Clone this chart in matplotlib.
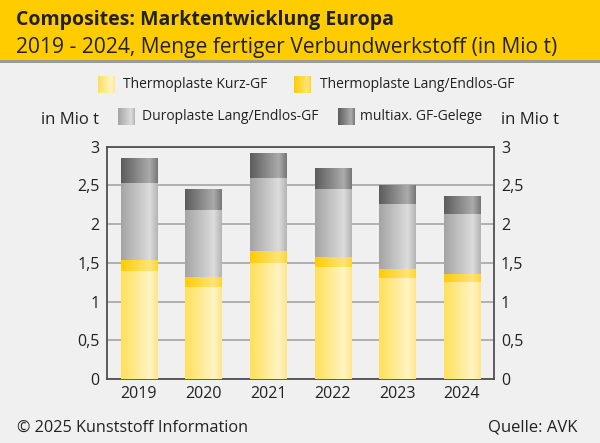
import numpy as np
import matplotlib.pyplot as plt

plt.rcParams['font.family'] = ['Open Sans', 'DejaVu Sans']

years = ['2019', '2020', '2021', '2022', '2023', '2024']
kurz = [1.39, 1.19, 1.50, 1.45, 1.30, 1.25]
lang = [0.15, 0.13, 0.15, 0.13, 0.12, 0.11]
duro = [0.99, 0.86, 0.95, 0.88, 0.84, 0.77]
multiax = [0.32, 0.27, 0.31, 0.26, 0.24, 0.22]
names = ['Thermoplaste Kurz-GF', 'Thermoplaste Lang/Endlos-GF',
         'Duroplaste Lang/Endlos-GF', 'multiax. GF-Gelege']
yticks = [0, 0.5, 1, 1.5, 2, 2.5, 3]
ylabels = ['0', '0,5', '1', '1,5', '2', '2,5', '3']

# left, light, right edge of the horizontal gradient
grads = [
    ['#ffe05a', '#fff4c4', '#ffe68c'],
    ['#ffcc00', '#ffe47a', '#ffd633'],
    ['#a4a4a4', '#dcdcdc', '#b4b4b4'],
    ['#5c5c5c', '#ababab', '#767676'],
]
flat = ['#ffe88a', '#ffd633', '#c4c4c4', '#888888']


def gradient(stops):
    from matplotlib.colors import to_rgb
    c = np.array([to_rgb(s) for s in stops])
    t = np.linspace(0, 1, 120)
    pos = [0, 0.78, 1]
    img = np.stack([np.interp(t, pos, c[:, k]) for k in range(3)], axis=-1)
    return img[None, :, :]


bg = '#f0f0f0'
txt = '#222222'
fig = plt.figure(figsize=(6, 4.43), dpi=100, facecolor=bg)

# overlay in pixel coordinates for header, legend and footer
ov = fig.add_axes([0, 0, 1, 1])
ov.set_xlim(0, 600)
ov.set_ylim(443, 0)
ov.axis('off')
ov.add_patch(plt.Rectangle((0, 0), 600, 60, color='#ffcc00', lw=0))
ov.add_patch(plt.Rectangle((0, 60), 600, 2.5, color='#9a9a9a', lw=0))
ov.text(16, 24.5, 'Composites: Marktentwicklung Europa', fontsize=14,
        weight='bold', color=txt, va='baseline')
ov.text(16, 53, '2019 - 2024, Menge fertiger Verbundwerkstoff (in Mio t)',
        fontsize=15.1, color=txt, va='baseline')

leg = [(97.6, 76, 122.8), (293.5, 76, 319.6), (117.9, 108, 141.6), (338.3, 108, 360.5)]
for (px, py, tx), g, name in zip(leg, grads, names):
    ov.imshow(gradient(g), extent=(px, px + 17, py + 16.5, py), aspect='auto',
              interpolation='bilinear')
    ov.text(tx, py + 8.5, name, fontsize=10, color=txt, va='center')
ov.set_xlim(0, 600)
ov.set_ylim(443, 0)
ov.text(41, 124, 'in Mio t', fontsize=12, color=txt, va='baseline')
ov.text(501, 124, 'in Mio t', fontsize=12, color=txt, va='baseline')
ov.text(17, 428, '© 2025 Kunststoff Information', fontsize=11.7, color=txt, va='center')
ov.text(578, 428, 'Quelle: AVK', fontsize=12, color=txt, va='center', ha='right')

ax = fig.add_axes([106.7 / 600, 1 - 379 / 443, 387.3 / 600, 232.3 / 443])
ax.set_facecolor('none')
x = np.arange(len(years))
bottom = np.zeros(len(years))
for vals, g, fc in zip([kurz, lang, duro, multiax], grads, flat):
    bars = ax.bar(x, vals, 0.56, bottom=bottom, color=fc, zorder=2)
    for p in bars:
        x0, y0, w, h = p.get_x(), p.get_y(), p.get_width(), p.get_height()
        ax.imshow(gradient(g), extent=(x0, x0 + w, y0, y0 + h), aspect='auto',
                  interpolation='bilinear', zorder=3)
    bottom += np.array(vals)

ax.set_xlim(-0.5, 5.5)
ax.set_ylim(0, 3)
ax.set_yticks(yticks, ylabels)
ax.set_xticks(x, years)
ax.yaxis.grid(True, color='#ababab', lw=1.3, zorder=0)
ax.set_axisbelow(True)
ax.tick_params(axis='y', length=0, pad=5, labelsize=11.5, labelcolor=txt,
               labelright=True)
ax.tick_params(axis='x', length=0, pad=5, labelsize=11.5, labelcolor=txt)
for s in ax.spines.values():
    s.set_color('#505050')
    s.set_linewidth(1.3)

fig.savefig('out.png', dpi=100, facecolor=bg)
